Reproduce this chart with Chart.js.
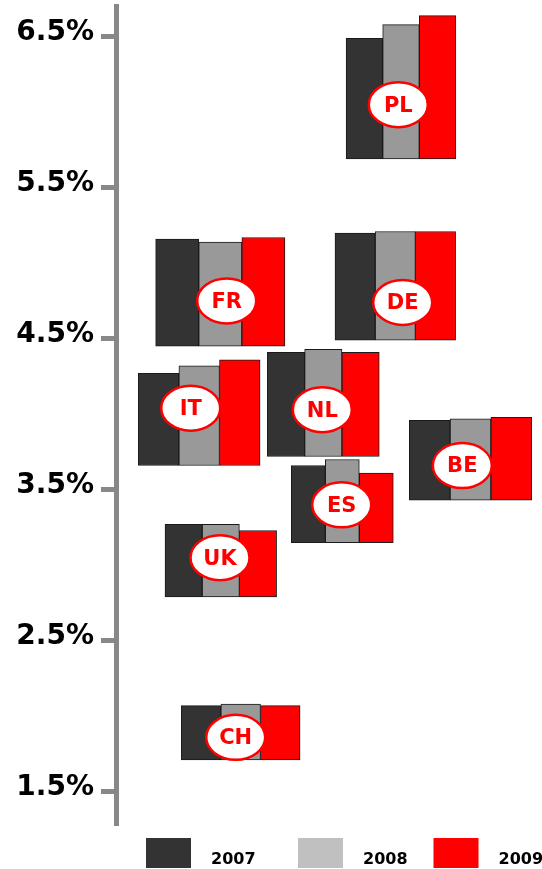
<!DOCTYPE html>
<html>
<head>
<meta charset="utf-8">
<script src="https://cdn.jsdelivr.net/npm/chart.js@4.4.1/dist/chart.umd.min.js"></script>
<style>
  html, body { margin: 0; padding: 0; background: #ffffff; }
  canvas { display: block; }
</style>
</head>
<body>
<canvas id="chart" width="542" height="869"></canvas>
<script>
// Country clusters: one floating bar per year, all starting from the cluster's baseline
const countries = ['PL', 'FR', 'DE', 'IT', 'NL', 'ES', 'BE', 'UK', 'CH'];
const years = ['2007', '2008', '2009'];
const rate2007 = [6.49, 5.16, 5.20, 4.27, 4.41, 3.66, 3.96, 3.27, 2.07];
const rate2008 = [6.58, 5.14, 5.21, 4.32, 4.43, 3.70, 3.97, 3.27, 2.08];
const rate2009 = [6.64, 5.17, 5.21, 4.36, 4.41, 3.61, 3.98, 3.23, 2.07];
const baseline = [5.69, 4.45, 4.49, 3.66, 3.72, 3.15, 3.43, 2.79, 1.71];
const badgeLevel = [6.05, 4.75, 4.74, 4.04, 4.03, 3.40, 3.66, 3.05, 1.86];
const tickValues = [1.5, 2.5, 3.5, 4.5, 5.5, 6.5];

// Placement of the clusters along the unlabelled horizontal axis (1 unit = 1 px of plot width)
const PLOT_WIDTH = 426;
const clusterX = [285, 104.3, 279.3, 83.2, 207.3, 226.3, 354.5, 104.8, 124.7];
const barWidth = [36.6, 43.1, 40.2, 40.6, 37.3, 34, 40.8, 37.2, 39.6];
const badgeX = [282.3, 110.7, 286.7, 74.7, 206.3, 225.7, 346.3, 104, 119.7];

const barColours = ['#333333', '#999999', '#ff0000'];
const legendColours = ['#333333', '#c0c0c0', '#ff0000'];
const legendLeft = [146, 298, 433.5];

const series = [rate2007, rate2008, rate2009];

Chart.defaults.font.family = '"DejaVu Sans", Verdana, sans-serif';

const datasets = countries.map((country, i) => ({
  label: country,
  data: series.map((values, k) => ({
    x: clusterX[i] + (k - 1) * barWidth[i],
    y: [baseline[i], values[i]]
  })),
  backgroundColor: barColours,
  borderColor: '#1a1a1a',
  borderWidth: 1,
  borderSkipped: false,
  barThickness: barWidth[i],
  grouped: false
}));

// Oval country badges drawn on top of each cluster
const badgePlugin = {
  id: 'countryBadges',
  afterDatasetsDraw(chart) {
    const { ctx, scales: { x, y } } = chart;
    ctx.save();
    countries.forEach((country, i) => {
      const cx = x.getPixelForValue(badgeX[i]);
      const cy = y.getPixelForValue(badgeLevel[i]);
      ctx.beginPath();
      ctx.ellipse(cx, cy, 29.5, 22.5, 0, 0, Math.PI * 2);
      ctx.fillStyle = '#ffffff';
      ctx.fill();
      ctx.lineWidth = 2.5;
      ctx.strokeStyle = '#ff0000';
      ctx.stroke();
      ctx.fillStyle = '#ff0000';
      ctx.font = 'bold 21px "DejaVu Sans", Verdana, sans-serif';
      ctx.textAlign = 'center';
      ctx.textBaseline = 'middle';
      ctx.fillText(country, cx, cy + 1.5);
    });
    ctx.restore();
  }
};

// Year key along the bottom edge
const yearKeyPlugin = {
  id: 'yearKey',
  afterDraw(chart) {
    const { ctx } = chart;
    ctx.save();
    years.forEach((year, k) => {
      const left = legendLeft[k];
      ctx.fillStyle = legendColours[k];
      ctx.fillRect(left, 838, 45, 30);
      ctx.fillStyle = '#000000';
      ctx.font = 'bold 16px "DejaVu Sans", Verdana, sans-serif';
      ctx.textAlign = 'left';
      ctx.textBaseline = 'alphabetic';
      ctx.fillText(year, left + 65, 864);
    });
    ctx.restore();
  }
};

new Chart(document.getElementById('chart'), {
  type: 'bar',
  data: { datasets },
  plugins: [badgePlugin, yearKeyPlugin],
  options: {
    responsive: false,
    devicePixelRatio: 1,
    animation: false,
    layout: { padding: { top: 6, bottom: 46, left: 0, right: 0 } },
    plugins: {
      legend: { display: false },
      tooltip: { enabled: false }
    },
    scales: {
      x: {
        type: 'linear',
        display: false,
        offset: false,
        min: 0,
        max: PLOT_WIDTH
      },
      y: {
        type: 'linear',
        position: 'left',
        min: 1.2927,
        max: 6.7033,
        afterFit(scale) {
          scale.width = 116;
          scale.paddingTop = 0;
          scale.paddingBottom = 0;
        },
        afterBuildTicks(scale) {
          scale.ticks = tickValues.map(v => ({ value: v }));
        },
        ticks: {
          callback: v => v.toFixed(1) + '%',
          color: '#000000',
          font: { size: 28, weight: 'bold' },
          padding: 7,
          labelOffset: -4
        },
        grid: {
          display: true,
          drawOnChartArea: false,
          drawTicks: true,
          tickLength: 15,
          tickWidth: 5,
          tickColor: '#888888',
          color: '#888888',
          lineWidth: 5
        },
        border: {
          display: true,
          color: '#888888',
          width: 5
        }
      }
    }
  }
});
</script>
</body>
</html>
